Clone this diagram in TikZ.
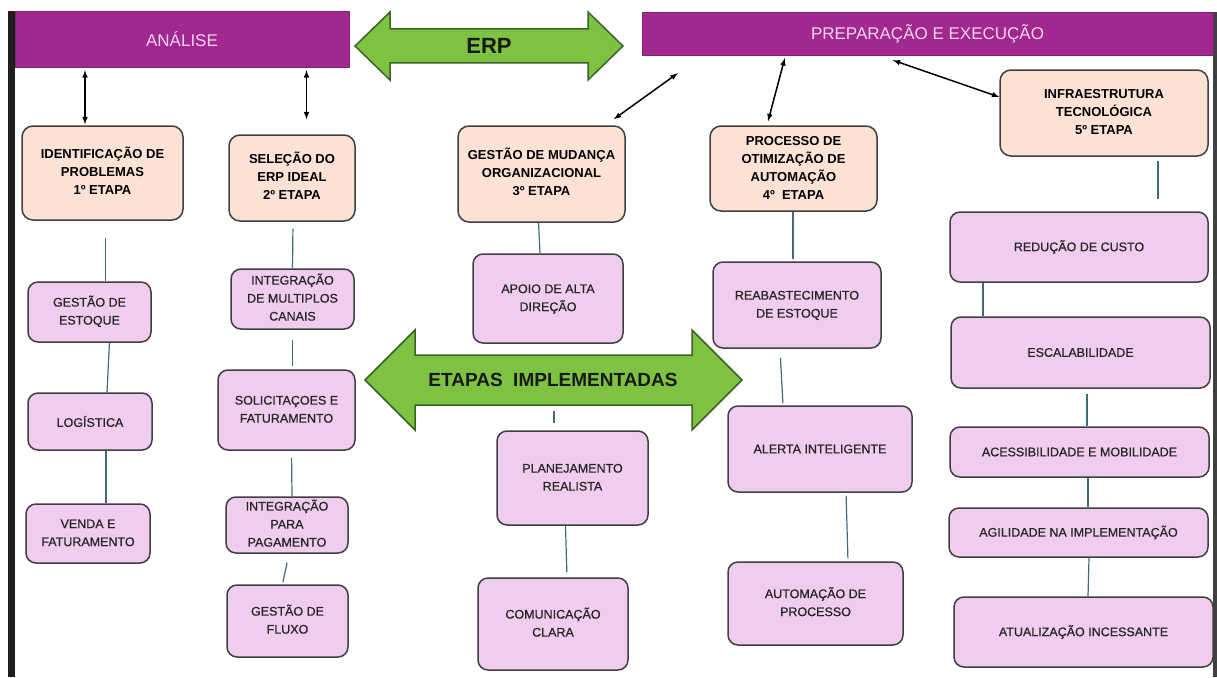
\documentclass[tikz,border=0pt]{standalone}
\usepackage{fontspec}
\setmainfont{Liberation Sans}
\newfontfamily\fonteTopico[FakeBold=0.7]{Liberation Sans}

\definecolor{roxo}{HTML}{A0288E}
\definecolor{textoBarra}{HTML}{F4D3EF}
\definecolor{verde}{HTML}{7EC242}
\definecolor{verdeEscuro}{HTML}{3B6326}
\definecolor{pessego}{HTML}{FBE2D5}
\definecolor{rosa}{HTML}{F0CDEE}
\definecolor{contorno}{HTML}{3F3F3F}
\definecolor{linha}{HTML}{3F6C7A}

\tikzset{
 barra/.style={rectangle, fill=roxo, draw=roxo!80!black, text=textoBarra, font=\fontsize{17}{20}\selectfont, inner sep=0pt},
 etapa/.style={rectangle, rounded corners=11pt, draw=contorno, line width=1.5pt, fill=pessego, font=\bfseries\fontsize{13}{18}\selectfont, inner sep=0pt},
 topico/.style={rectangle, rounded corners=10pt, draw=contorno, line width=1.5pt, fill=rosa, text=black!85, font=\fonteTopico\fontsize{12.5}{18}\selectfont, inner sep=0pt},
 ligacao/.style={draw=linha, line width=1.2pt},
 seta/.style={<->, >=latex, line width=1.5pt},
 faixa/.style={fill=verde, draw=verdeEscuro, line width=1.5pt, line join=miter}
}

\begin{document}
\begin{tikzpicture}[x=1pt,y=-1pt]
 \useasboundingbox (0,0) rectangle (1217,677);
 \fill[black!88] (8,11) rectangle (15,677);
 \fill[black!75] (1213,12) rectangle (1217,677);

 \node (analise) [barra, minimum width=334pt, minimum height=56pt] at (182,39) {ANÁLISE};
 \node (preparacao) [barra, minimum width=571pt, minimum height=43pt] at (927.5,33.5) {PREPARAÇÃO E EXECUÇÃO};

 \draw[faixa] (355,46) -- (390,12) -- (390,29) -- (588,29) -- (588,12) -- (623,46) -- (588,80) -- (588,63) -- (390,63) -- (390,80) -- cycle;
 \node (erpTexto) [font=\bfseries\fontsize{22}{26}\selectfont, text=black!90] at (489,46) {ERP};

 \node (identificacao) [etapa, minimum width=161pt, minimum height=94pt] at (102.5,173) {\begin{tabular}{c}IDENTIFICAÇÃO DE\\ PROBLEMAS\\ 1º ETAPA\end{tabular}};
 \node (selecao) [etapa, minimum width=126pt, minimum height=86pt] at (292,178) {\begin{tabular}{c}SELEÇÃO DO\\ ERP IDEAL\\ 2º ETAPA\end{tabular}};
 \node (mudanca) [etapa, minimum width=167pt, minimum height=96pt] at (541.5,174) {\begin{tabular}{c}GESTÃO DE MUDANÇA\\ ORGANIZACIONAL\\ 3º ETAPA\end{tabular}};
 \node (otimizacao) [etapa, minimum width=167pt, minimum height=85pt] at (793.5,168.5) {\begin{tabular}{c}PROCESSO DE\\ OTIMIZAÇÃO DE\\ AUTOMAÇÃO\\ 4º\ \ ETAPA\end{tabular}};
 \node (infra) [etapa, minimum width=208pt, minimum height=86pt] at (1104,113) {\begin{tabular}{c}INFRAESTRUTURA\\ TECNOLÓGICA\\ 5º ETAPA\end{tabular}};

 \node (gestaoEstoque) [topico, minimum width=123pt, minimum height=60pt] at (89.5,312) {\begin{tabular}{c}GESTÃO DE\\ ESTOQUE\end{tabular}};
 \node (logistica) [topico, minimum width=124pt, minimum height=57pt] at (90,421.5) {LOGÍSTICA};
 \node (vendaFaturamento) [topico, minimum width=124pt, minimum height=59pt] at (88,533.5) {\begin{tabular}{c}VENDA E\\ FATURAMENTO\end{tabular}};

 \node (integracaoCanais) [topico, minimum width=123pt, minimum height=60pt] at (292.5,299) {\begin{tabular}{c}INTEGRAÇÃO\\ DE MULTIPLOS\\ CANAIS\end{tabular}};
 \node (solicitacoes) [topico, minimum width=137pt, minimum height=80pt] at (286.5,410) {\begin{tabular}{c}SOLICITAÇOES E\\ FATURAMENTO\end{tabular}};
 \node (integracaoPagamento) [topico, minimum width=122pt, minimum height=56pt] at (287,525) {\begin{tabular}{c}INTEGRAÇÃO\\ PARA\\ PAGAMENTO\end{tabular}};
 \node (gestaoFluxo) [topico, minimum width=121pt, minimum height=72pt] at (287.5,621) {\begin{tabular}{c}GESTÃO DE\\ FLUXO\end{tabular}};

 \node (apoioDirecao) [topico, minimum width=150pt, minimum height=89pt] at (548,298.5) {\begin{tabular}{c}APOIO DE ALTA\\ DIREÇÃO\end{tabular}};
 \node (planejamento) [topico, minimum width=151pt, minimum height=94pt] at (572.5,478) {\begin{tabular}{c}PLANEJAMENTO\\ REALISTA\end{tabular}};
 \node (comunicacao) [topico, minimum width=150pt, minimum height=92pt] at (553,624) {\begin{tabular}{c}COMUNICAÇÃO\\ CLARA\end{tabular}};

 \node (reabastecimento) [topico, minimum width=168pt, minimum height=86pt] at (797,305) {\begin{tabular}{c}REABASTECIMENTO\\ DE ESTOQUE\end{tabular}};
 \node (alerta) [topico, minimum width=184pt, minimum height=86pt] at (820,449) {ALERTA INTELIGENTE};
 \node (automacao) [topico, minimum width=175pt, minimum height=83pt] at (815.5,603.5) {\begin{tabular}{c}AUTOMAÇÃO DE\\ PROCESSO\end{tabular}};

 \node (reducao) [topico, minimum width=258pt, minimum height=70pt] at (1079,247) {REDUÇÃO DE CUSTO};
 \node (escalabilidade) [topico, minimum width=259pt, minimum height=71pt] at (1080.5,352.5) {ESCALABILIDADE};
 \node (acessibilidade) [topico, minimum width=259pt, minimum height=50pt] at (1079.5,452) {ACESSIBILIDADE E MOBILIDADE};
 \node (agilidade) [topico, minimum width=259pt, minimum height=49pt] at (1078.5,532.5) {AGILIDADE NA IMPLEMENTAÇÃO};
 \node (atualizacao) [topico, minimum width=259pt, minimum height=70pt] at (1083.5,632) {ATUALIZAÇÃO INCESSANTE};

 \draw[faixa] (365,380) -- (415,330) -- (415,355) -- (692,355) -- (692,330) -- (742,380) -- (692,430) -- (692,405) -- (415,405) -- (415,430) -- cycle;
 \node (etapasTexto) [font=\bfseries\fontsize{19}{22}\selectfont, text=black!90] at (553,380) {ETAPAS\ \ IMPLEMENTADAS};

 \draw[seta, shorten <=1pt, shorten >=3pt] ([xshift=-17.5pt]identificacao.north) -- ([xshift=-17.5pt]identificacao.north |- analise.south);
 \draw[seta, shorten <=15pt, shorten >=3pt] ([xshift=14.5pt]selecao.north) -- ([xshift=14.5pt]selecao.north |- analise.south);
 \draw[seta] ([xshift=-12pt,yshift=6pt]mudanca.north east) -- ([xshift=36pt,yshift=-18pt]preparacao.south west);
 \draw[seta] ([xshift=-25.5pt,yshift=4pt]otimizacao.north) -- ([xshift=143pt,yshift=-3pt]preparacao.south west);
 \draw[seta] ([yshift=16pt]infra.west) -- ([xshift=251pt,yshift=-5pt]preparacao.south west);

 \draw[ligacao, shorten <=17pt] ([xshift=3pt]identificacao.south) -- ([xshift=16pt]gestaoEstoque.north);
 \draw[ligacao] ([xshift=20pt]gestaoEstoque.south) -- ([xshift=17pt]logistica.north);
 \draw[ligacao] ([xshift=16pt]logistica.south) -- ([xshift=18pt]vendaFaturamento.north);

 \draw[ligacao, shorten <=7pt] ([xshift=1pt]selecao.south) -- (integracaoCanais.north);
 \draw[ligacao, shorten <=10pt, shorten >=3pt] (integracaoCanais.south) -- ([xshift=6pt]solicitacoes.north);
 \draw[ligacao, shorten <=7pt] ([xshift=5pt]solicitacoes.south) -- ([xshift=5pt]integracaoPagamento.north);
 \draw[ligacao, shorten <=9pt, shorten >=2pt] ([xshift=2pt]integracaoPagamento.south) -- ([xshift=-5pt]gestaoFluxo.north);

 \draw[ligacao] ([xshift=-3pt]mudanca.south) -- ([xshift=-8pt]apoioDirecao.north);
 \draw[ligacao, shorten <=67pt, shorten >=7pt] ([xshift=6pt]apoioDirecao.south) -- ([xshift=-18.5pt]planejamento.north);
 \draw[ligacao, shorten >=5pt] ([xshift=-7pt]planejamento.south) -- ([xshift=14pt]comunicacao.north);

 \draw[ligacao, shorten >=2pt] ([xshift=-0.5pt]otimizacao.south) -- ([xshift=-4pt]reabastecimento.north);
 \draw[ligacao, shorten <=9pt, shorten >=2pt] ([xshift=-17pt]reabastecimento.south) -- ([xshift=-37pt]alerta.north);
 \draw[ligacao, shorten <=3pt, shorten >=3pt] ([xshift=26pt]alerta.south) -- ([xshift=32.5pt]automacao.north);

 \draw[ligacao, shorten <=4pt, shorten >=12pt] ([xshift=54pt]infra.south) -- ([xshift=79pt]reducao.north);
 \draw[ligacao] ([xshift=-96pt]reducao.south) -- ([xshift=-97.5pt]escalabilidade.north);
 \draw[ligacao, shorten <=5pt] ([xshift=6.5pt]escalabilidade.south) -- ([xshift=7.5pt]acessibilidade.north);
 \draw[ligacao] ([xshift=8.5pt]acessibilidade.south) -- ([xshift=9.5pt]agilidade.north);
 \draw[ligacao] ([xshift=10.5pt]agilidade.south) -- ([xshift=4.5pt]atualizacao.north);
\end{tikzpicture}
\end{document}
